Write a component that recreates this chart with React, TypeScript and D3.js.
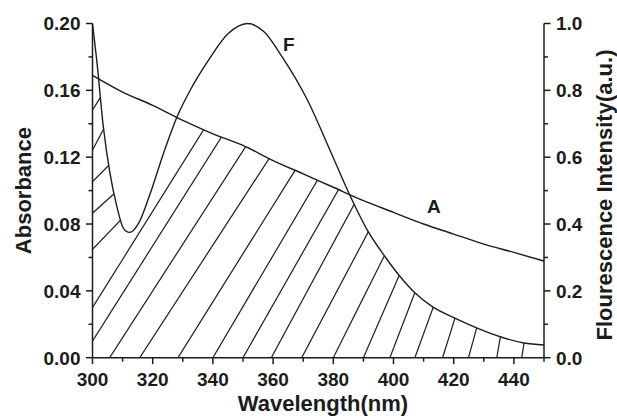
import React from 'react';
import * as d3 from 'd3';

// absorbance curve (A), left axis
const absWavelength = [300, 310, 320, 330, 340, 350, 360, 370, 380, 390, 400, 410, 420, 430, 440, 450];
const absValue = [0.169, 0.159, 0.151, 0.142, 0.134, 0.127, 0.118, 0.110, 0.102, 0.094, 0.087, 0.080, 0.074, 0.068, 0.063, 0.0578];

// fluorescence curve (F), right axis
const fluWavelength = [300, 301.4, 303.6, 305.8, 308.1, 310.3, 312.3, 315.3, 319.2, 323.6, 328, 332.5, 338.6, 345, 351.5, 357, 363, 371.4, 378.9, 385.3, 391.6, 397.2, 401.9, 407, 413, 420, 428, 435.7, 443.3, 450];
const fluValue = [1.0, 0.891, 0.691, 0.552, 0.452, 0.387, 0.375, 0.402, 0.492, 0.612, 0.719, 0.801, 0.891, 0.969, 1.0, 0.975, 0.9, 0.771, 0.621, 0.49, 0.377, 0.302, 0.246, 0.195, 0.152, 0.12, 0.088, 0.062, 0.044, 0.038];
const fluMinWavelength = 312.3;

// hatch lines: where each meets the baseline (nm) and its angle (deg)
const hatchBase = [289.6, 296.5, 305.7, 315.7, 328.4, 340.0, 350.0, 359.4, 369.5, 380.0, 390.0, 398.8, 407.1, 416.3, 424.9, 434.3, 442.6];
const hatchAngle = [58, 57.7, 57.2, 57, 58, 59.5, 60.4, 61.6, 62.1, 63.4, 66.5, 69, 70, 72.6, 74.5, 80, 81];
// short hatch in the left lobe: absorbance where it meets the 300 nm axis, and its angle
const lobeAnchor = [0.1482, 0.1243, 0.1054, 0.0865, 0.0649];
const lobeAngle = [58, 62, 45, 42, 46];

const xTicks = [300, 320, 340, 360, 380, 400, 420, 440];
const xMinor = [310, 330, 350, 370, 390, 410, 430, 450];
const absTicks = [0, 0.04, 0.08, 0.12, 0.16, 0.2];
const absMinor = [0.02, 0.06, 0.1, 0.14, 0.18];
const fluTicks = [0, 0.2, 0.4, 0.6, 0.8, 1.0];
const fluMinor = [0.1, 0.3, 0.5, 0.7, 0.9];

const W = 617;
const H = 416;
const ink = '#1c1c1c';
const font = '"Liberation Sans", Arial, sans-serif';

export default function App() {
  const x = d3.scaleLinear().domain([300, 450]).range([92.5, 544]);
  const yA = d3.scaleLinear().domain([0, 0.2]).range([357.7, 23.5]);
  const yF = d3.scaleLinear().domain([0, 1]).range([357.7, 23.5]);
  const x0 = x.range()[0], x1 = x.range()[1];
  const yb = yA(0), yt = yA(0.2);

  const absPts: [number, number][] = absWavelength.map((w, i) => [w, absValue[i]]);
  const fluPts: [number, number][] = fluWavelength.map((w, i) => [w, fluValue[i]]);

  const lineA = d3.line<[number, number]>().x(d => x(d[0])).y(d => yA(d[1])).curve(d3.curveMonotoneX);
  const lineF = d3.line<[number, number]>().x(d => x(d[0])).y(d => yF(d[1])).curve(d3.curveMonotoneX);
  const areaA = d3.area<[number, number]>().x(d => x(d[0])).y0(yb).y1(d => yA(d[1])).curve(d3.curveMonotoneX);
  const areaF = d3.area<[number, number]>().x(d => x(d[0])).y0(yb).y1(d => yF(d[1])).curve(d3.curveMonotoneX);

  const L = 700;
  const seg = (px: number, py: number, deg: number) => {
    const r = (deg * Math.PI) / 180;
    return {
      x1: px - L * Math.cos(r), y1: py + L * Math.sin(r),
      x2: px + L * Math.cos(r), y2: py - L * Math.sin(r),
    };
  };

  const text = { fontFamily: font, fontWeight: 700, fill: ink } as const;

  return (
    <svg width={W} height={H} style={{ position: 'absolute', left: 0, top: 0, background: '#fff' }}>
      <defs>
        <clipPath id="clipA"><path d={areaA(absPts) || ''} /></clipPath>
        <clipPath id="clipF"><path d={areaF(fluPts) || ''} /></clipPath>
        <clipPath id="clipLobe"><rect x={x0} y={yt - 5} width={x(fluMinWavelength) - x0} height={yb - yt + 5} /></clipPath>
      </defs>

      {/* hatched overlap */}
      <g clipPath="url(#clipA)">
        <g clipPath="url(#clipF)" stroke={ink} strokeWidth={1.2}>
          {hatchBase.map((b, i) => {
            const s = seg(x(b), yb, hatchAngle[i]);
            return <line key={'h' + i} {...s} />;
          })}
          <g clipPath="url(#clipLobe)">
            {lobeAnchor.map((a, i) => {
              const s = seg(x0, yA(a), lobeAngle[i]);
              return <line key={'l' + i} {...s} />;
            })}
          </g>
        </g>
      </g>

      {/* curves */}
      <path d={lineA(absPts) || ''} fill="none" stroke={ink} strokeWidth={1.4} />
      <path d={lineF(fluPts) || ''} fill="none" stroke={ink} strokeWidth={1.4} />

      {/* axes */}
      <g stroke={ink} strokeWidth={1.5} fill="none">
        <line x1={x0} x2={x0} y1={yt} y2={yb} />
        <line x1={x1} x2={x1} y1={yt} y2={yb} />
        <line x1={x0} x2={x1} y1={yb} y2={yb} />
        {xTicks.map(t => <line key={'xt' + t} x1={x(t)} x2={x(t)} y1={yb} y2={yb + 6.5} />)}
        {xMinor.map(t => <line key={'xm' + t} x1={x(t)} x2={x(t)} y1={yb} y2={yb + 4} />)}
        {absTicks.map(t => <line key={'at' + t} x1={x0 - 6.5} x2={x0} y1={yA(t)} y2={yA(t)} />)}
        {absMinor.map(t => <line key={'am' + t} x1={x0 - 4} x2={x0} y1={yA(t)} y2={yA(t)} />)}
        {fluTicks.map(t => <line key={'ft' + t} x1={x1} x2={x1 + 6.5} y1={yF(t)} y2={yF(t)} />)}
        {fluMinor.map(t => <line key={'fm' + t} x1={x1} x2={x1 + 4} y1={yF(t)} y2={yF(t)} />)}
      </g>

      {/* tick labels */}
      <g {...text} fontSize={19}>
        {xTicks.map(t => (
          <text key={'xl' + t} x={x(t)} y={yb + 28.5} textAnchor="middle">{t}</text>
        ))}
        {absTicks.map(t => (
          <text key={'al' + t} x={x0 - 12} y={yA(t)} dy="0.36em" textAnchor="end">{t.toFixed(2)}</text>
        ))}
        {fluTicks.map(t => (
          <text key={'fl' + t} x={x1 + 12} y={yF(t)} dy="0.36em" textAnchor="start">{t.toFixed(1)}</text>
        ))}
      </g>

      {/* curve labels */}
      <g {...text} fontSize={19}>
        <text x={x(363.3)} y={yF(0.918)}>F</text>
        <text x={x(411.1)} y={yA(0.0864)}>A</text>
      </g>

      {/* axis titles */}
      <g {...text} fontSize={22}>
        <text x={323} y={411} textAnchor="middle">Wavelength(nm)</text>
        <text transform={`translate(31,${(yt + yb) / 2}) rotate(-90)`} textAnchor="middle">Absorbance</text>
        <text transform={`translate(612,195) rotate(-90)`} textAnchor="middle">Flourescence Intensity(a.u.)</text>
      </g>
    </svg>
  );
}
